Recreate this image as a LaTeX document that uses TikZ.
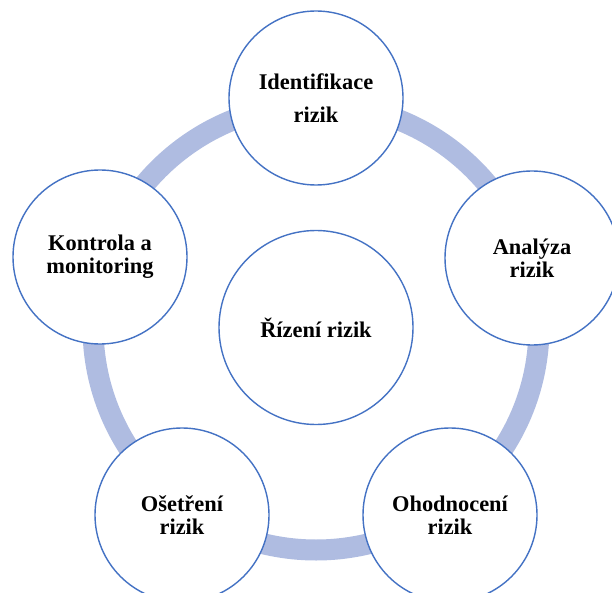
\documentclass[tikz,border=0pt]{standalone}
\usepackage{fontspec}
\setmainfont{Liberation Serif}
\definecolor{ringc}{RGB}{175,188,225}
\definecolor{edgec}{RGB}{68,114,196}
\tikzset{
  stage/.style={circle, draw=edgec, line width=1.4pt, fill=white, minimum size=174pt, inner sep=0pt, align=center,
    font=\fontsize{22.4}{23.3}\selectfont\bfseries},
  hub/.style={stage, minimum size=194pt},
  ring/.style={draw=ringc, line width=21pt}
}
\begin{document}
\begin{tikzpicture}[x=1pt,y=-1pt]
\clip (0,0) rectangle (612,593);
\fill[white] (0,0) rectangle (612,593);
\coordinate (c) at (316,327);
\draw[ring] (c) circle[radius=223];
\node[hub] (hub) at (316,327.5) {Řízení rizik};
\node[stage] (ident) at (316,98) {Identifikace\\[9pt]rizik};
\node[stage] (anal) at (532,258) {Analýza\\rizik};
\node[stage] (ohod) at (450,515) {Ohodnocení\\rizik};
\node[stage] (oset) at (182,515) {Ošetření\\rizik};
\node[stage] (kontr) at (100,257) {Kontrola a\\monitoring};
\end{tikzpicture}
\end{document}
